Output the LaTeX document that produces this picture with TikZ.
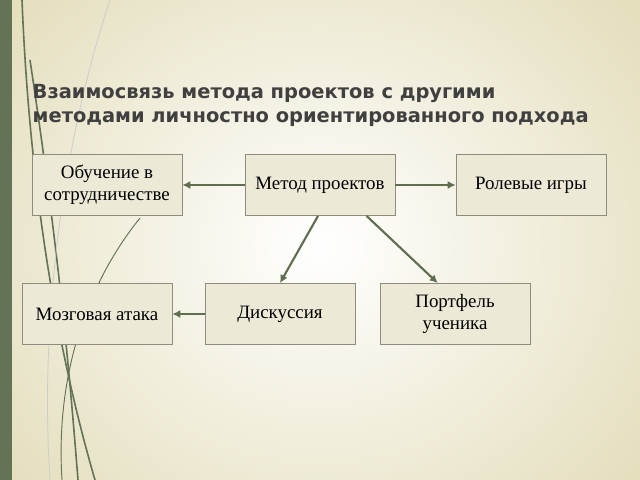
\documentclass[tikz,border=0pt]{standalone}
\usepackage{fontspec}
\setmainfont{Liberation Serif}
\newfontfamily\titlefont{DejaVu Sans}
\usetikzlibrary{arrows.meta, positioning}
\definecolor{bgbeige}{HTML}{E2DCB8}
\definecolor{barcol}{HTML}{637356}
\definecolor{boxfill}{HTML}{ECE9D6}
\definecolor{boxline}{HTML}{8E8C7E}
\definecolor{arrcol}{HTML}{5F6E4F}
\definecolor{titlecol}{HTML}{404040}

\begin{document}
\begin{tikzpicture}[
    x=0.0264cm, y=-0.0264cm,
    topic/.style={rectangle, draw=boxline, fill=boxfill, minimum width=3.96cm,
        minimum height=1.62cm, align=center, font=\fontsize{14.2}{16.5}\selectfont,
        inner sep=2pt},
    arrow/.style={-{Latex[length=6pt,width=6pt]}, draw=arrcol, line width=1.6pt},
    deco/.style={draw=barcol, line width=1.2pt}
]

% Background and bar
\useasboundingbox (0,0) rectangle (640,480);
\shade[inner color=white, outer color=bgbeige] (-120,-150) rectangle (760,640);
\fill[barcol] (0,0) rectangle (12,480);

% Decorative curves
\draw[deco] (22,0) .. controls (30,200) and (60,360) .. (95,480);
\draw[deco] (30,60) .. controls (60,260) and (70,380) .. (78,480);
\draw[deco, line width=0.7pt] (140,218) .. controls (90,280) and (55,370) .. (62,480);
\draw[deco, draw=gray!40, line width=0.6pt] (110,0) .. controls (60,150) and (40,330) .. (50,480);

% Title
\node[anchor=west, align=left, text=titlecol,
    font=\titlefont\bfseries\fontsize{14.6}{18}\selectfont] (title) at (28,105)
    {Взаимосвязь метода проектов с другими\\методами личностно ориентированного подхода};

% Nodes
\node[topic] (method) at (320,185) {Метод проектов};
\node[topic] (coop) at (107,185) {Обучение в\\сотрудничестве};
\node[topic] (roles) at (531,185) {Ролевые игры};
\node[topic] (brain) at (97,314) {Мозговая атака};
\node[topic] (disc) at (280,314) {Дискуссия};
\node[topic] (folio) at (455,314) {Портфель\\ученика};

% Arrows
\draw[arrow] (method) -- (coop);
\draw[arrow] (method) -- (roles);
\draw[arrow] (method.south) ++(-2,0) coordinate (m1) -- (disc.north);
\draw[arrow] ([xshift=35]method.south) -- ([xshift=-13]folio.north);
\draw[arrow] (disc) -- (brain);

\end{tikzpicture}
\end{document}
